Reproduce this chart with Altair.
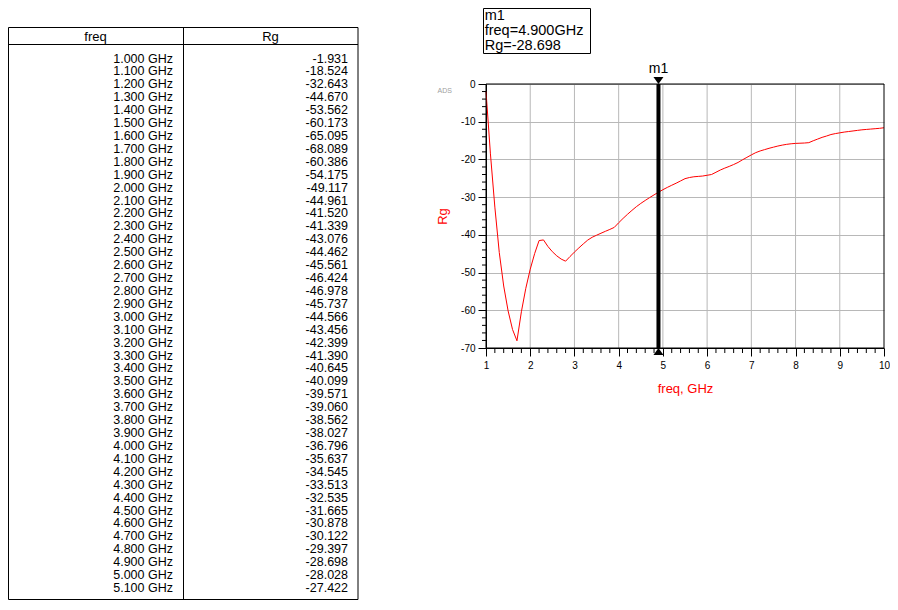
import altair as alt
import pandas as pd

FONT = "Liberation Sans"
GRID = "#b8b8b8"

# ---------------- data ----------------
table_freq = [1.0, 1.1, 1.2, 1.3, 1.4, 1.5, 1.6, 1.7, 1.8, 1.9,
              2.0, 2.1, 2.2, 2.3, 2.4, 2.5, 2.6, 2.7, 2.8, 2.9,
              3.0, 3.1, 3.2, 3.3, 3.4, 3.5, 3.6, 3.7, 3.8, 3.9,
              4.0, 4.1, 4.2, 4.3, 4.4, 4.5, 4.6, 4.7, 4.8, 4.9,
              5.0, 5.1]
table_rg = [-1.931, -18.524, -32.643, -44.670, -53.562, -60.173, -65.095, -68.089, -60.386, -54.175,
            -49.117, -44.961, -41.520, -41.339, -43.076, -44.462, -45.561, -46.424, -46.978, -45.737,
            -44.566, -43.456, -42.399, -41.390, -40.645, -40.099, -39.571, -39.060, -38.562, -38.027,
            -36.796, -35.637, -34.545, -33.513, -32.535, -31.665, -30.878, -30.122, -29.397, -28.698,
            -28.028, -27.422]
# values beyond the table
ext_freq = [5.2, 5.3, 5.4, 5.5, 5.6, 5.7, 5.8, 5.9, 6.0,
            6.1, 6.2, 6.3, 6.4, 6.5, 6.6, 6.7, 6.8, 6.9, 7.0,
            7.1, 7.2, 7.3, 7.4, 7.5, 7.6, 7.7, 7.8, 7.9, 8.0,
            8.1, 8.2, 8.3, 8.4, 8.5, 8.6, 8.7, 8.8, 8.9, 9.0,
            9.1, 9.2, 9.3, 9.4, 9.5, 9.6, 9.7, 9.8, 9.9, 10.0]
ext_rg = [-26.85, -26.3, -25.7, -25.1, -24.8, -24.6, -24.5, -24.4, -24.2,
          -24.0, -23.4, -22.8, -22.3, -21.85, -21.35, -20.8, -20.1, -19.45, -18.8,
          -18.2, -17.75, -17.4, -17.05, -16.75, -16.45, -16.2, -16.0, -15.85, -15.75,
          -15.7, -15.65, -15.55, -15.05, -14.6, -14.15, -13.8, -13.4, -13.15, -12.95,
          -12.75, -12.6, -12.45, -12.3, -12.15, -12.05, -11.95, -11.85, -11.75, -11.6]

table_headers = ["freq", "Rg"]
x_major = [1, 2, 3, 4, 5, 6, 7, 8, 9, 10]
y_major = [-70, -60, -50, -40, -30, -20, -10, 0]
x_minor = [round(a / 10, 1) for a in range(10, 101, 2) if a % 10]
y_minor = [v for v in range(-70, 1, 2) if v % 10]

marker_name = "m1"
marker_freq = 4.9
marker_rg = table_rg[table_freq.index(marker_freq)]

# ---------------- table ----------------
rows = []
for i, (f, r) in enumerate(zip(table_freq, table_rg)):
    rows.append({"row": i, "col": "freq", "text": f"{f:.3f} GHz"})
    rows.append({"row": i, "col": "Rg", "text": f"{r:.3f}"})
cells = pd.DataFrame(rows)
n = len(table_freq)

colx = alt.X("col:N", scale=alt.Scale(type="point", domain=table_headers, range=[0, 350], padding=0.5), axis=None)
one = pd.DataFrame({"k": [0]})


def seg(x1, y1, x2, y2):
    return alt.Chart(one).mark_rule(color="black", strokeWidth=1).encode(
        x=alt.value(x1), y=alt.value(y1), x2=alt.value(x2), y2=alt.value(y2))


tborder = alt.Chart(one).mark_rect(fill="transparent", stroke="black", strokeWidth=1).encode(
    x=alt.value(0.5), x2=alt.value(350), y=alt.value(19.5), y2=alt.value(591.5))
thead_line = seg(0.5, 36.5, 350, 36.5)
tdivider = seg(175.5, 19.5, 175.5, 591.5)
theader = alt.Chart(pd.DataFrame({"col": table_headers})).mark_text(
    baseline="middle", fontSize=13, color="black").encode(x=colx, y=alt.value(29), text="col:N")
tvalues = alt.Chart(cells).mark_text(
    align="right", baseline="middle", dx=77.5, fontSize=12.5, color="black").encode(
    x=colx,
    y=alt.Y("row:Q", scale=alt.Scale(domain=[0, n - 1], range=[50.5, 580], nice=False, zero=False), axis=None),
    text="text:N")

table = alt.layer(tborder, thead_line, tdivider, theader, tvalues).properties(width=350, height=592)

# ---------------- plot ----------------
plot_df = pd.DataFrame({"freq": table_freq + ext_freq, "rg": table_rg + ext_rg})

xs = alt.Scale(domain=[1, 10], nice=False, zero=False)
ys = alt.Scale(domain=[-70, 0], range=[340, 76], nice=False, zero=False)

yaxis = alt.Axis(values=y_major, grid=True, gridColor=GRID, gridWidth=1, domainColor="black", domainWidth=1,
                 tickColor="black", tickSize=8, tickWidth=1, labelFontSize=10, labelColor="black",
                 labelPadding=3, labelFlush=False, labelExpr="datum.value + ''", labelFont=FONT,
                 title="Rg", titleColor="red", titleFontSize=13, titleFontWeight="normal", titleFont=FONT,
                 titleAngle=270, titleX=-43.3, titleY=208, titleAlign="center", titleBaseline="middle")
xaxis = alt.Axis(values=x_major, grid=False, domainColor="black", domainWidth=1, tickColor="black",
                 tickSize=8, tickWidth=1, labelFontSize=10, labelColor="black", labelPadding=4,
                 labelFlush=False, labelExpr="datum.value + ''", labelFont=FONT,
                 title="freq, GHz", titleColor="red", titleFontSize=13, titleFontWeight="normal",
                 titleFont=FONT, titleY=40, titleBaseline="middle", titleAlign="center")


def X(field):
    return alt.X(field, scale=xs, axis=xaxis)


def Y(field):
    return alt.Y(field, scale=ys, axis=yaxis)


def XD(v):
    return alt.XDatum(v, scale=xs, axis=xaxis)


def YD(v):
    return alt.YDatum(v, scale=ys, axis=yaxis)


xgrid = alt.Chart(pd.DataFrame({"t": x_major[1:-1]})).mark_rule(color=GRID, strokeWidth=1).encode(
    x=X("t:Q"), y=YD(-70), y2=alt.Y2Datum(0))

curve = alt.Chart(plot_df).mark_line(color="#ff0000", strokeWidth=1).encode(
    x=X("freq:Q"), y=Y("rg:Q"))

frame_top = alt.Chart(one).mark_rule(color="black", strokeWidth=1).encode(
    x=XD(1), x2=alt.X2Datum(10), y=YD(0))
frame_right = alt.Chart(one).mark_rule(color="black", strokeWidth=1).encode(
    x=XD(10), y=YD(-70), y2=alt.Y2Datum(0))
frame_left = alt.Chart(one).mark_rule(color="black", strokeWidth=1).encode(
    x=XD(1), y=YD(-70), y2=alt.Y2Datum(0))
frame_bottom = alt.Chart(one).mark_rule(color="black", strokeWidth=1).encode(
    x=XD(1), x2=alt.X2Datum(10), y=YD(-70))

xminor = alt.Chart(pd.DataFrame({"t": x_minor})).mark_rule(color="black", strokeWidth=1, y2Offset=5).encode(
    x=X("t:Q"), y=YD(-70), y2=alt.Y2Datum(-70))
yminor = alt.Chart(pd.DataFrame({"v": y_minor})).mark_rule(color="black", strokeWidth=1, x2Offset=-4).encode(
    y=Y("v:Q"), x=XD(1), x2=alt.X2Datum(1))

mk = pd.DataFrame({"freq": [marker_freq], "rg": [marker_rg], "name": [marker_name]})
mrule = alt.Chart(mk).mark_rule(color="black", strokeWidth=4).encode(
    x=X("freq:Q"), y=YD(-70), y2=alt.Y2Datum(0))
mtop = alt.Chart(mk).mark_point(shape="M-1,-1.4L1,-1.4L0,0Z", size=100, filled=True, color="black",
                                opacity=1, strokeWidth=0).encode(x=X("freq:Q"), y=YD(0))
mbot = alt.Chart(mk).mark_point(shape="M-1,1.4L1,1.4L0,0Z", size=100, filled=True, color="black",
                                opacity=1, strokeWidth=0).encode(x=X("freq:Q"), y=YD(-70))
mlabel = alt.Chart(mk).mark_text(fontSize=14, baseline="alphabetic", dy=-11, color="black").encode(
    x=X("freq:Q"), y=YD(0), text="name:N")

box_lines = [marker_name, f"freq={marker_freq:.3f}GHz", f"Rg={marker_rg:.3f}"]
box = alt.Chart(mk).mark_rect(fill="white", stroke="black", strokeWidth=1).encode(
    x=alt.value(-2.5), x2=alt.value(104.5), y=alt.value(0.5), y2=alt.value(45.5))
boxtext = alt.Chart(mk).mark_text(align="left", baseline="alphabetic", fontSize=14.5, lineHeight=15,
                                  color="black").encode(
    x=alt.value(-1.3), y=alt.value(12), text=alt.value(box_lines))
ads = alt.Chart(one).mark_text(fontSize=7, color="#a0a0a0", baseline="middle").encode(
    x=alt.value(-41.3), y=alt.value(83), text=alt.value("ADS"))

plot = alt.layer(xgrid, curve, frame_top, frame_right, frame_left, frame_bottom, xminor, yminor,
                 mrule, mtop, mbot, mlabel, box, boxtext, ads).properties(width=398, height=340)

chart = alt.hconcat(table, plot, spacing=128, bounds="flush").properties(
    padding={"left": 0, "top": 0, "right": 0, "bottom": 0}
).configure(font=FONT).configure_view(stroke="transparent", strokeWidth=0)

chart.save("out.html", embed_options={"renderer": "svg", "actions": False})
